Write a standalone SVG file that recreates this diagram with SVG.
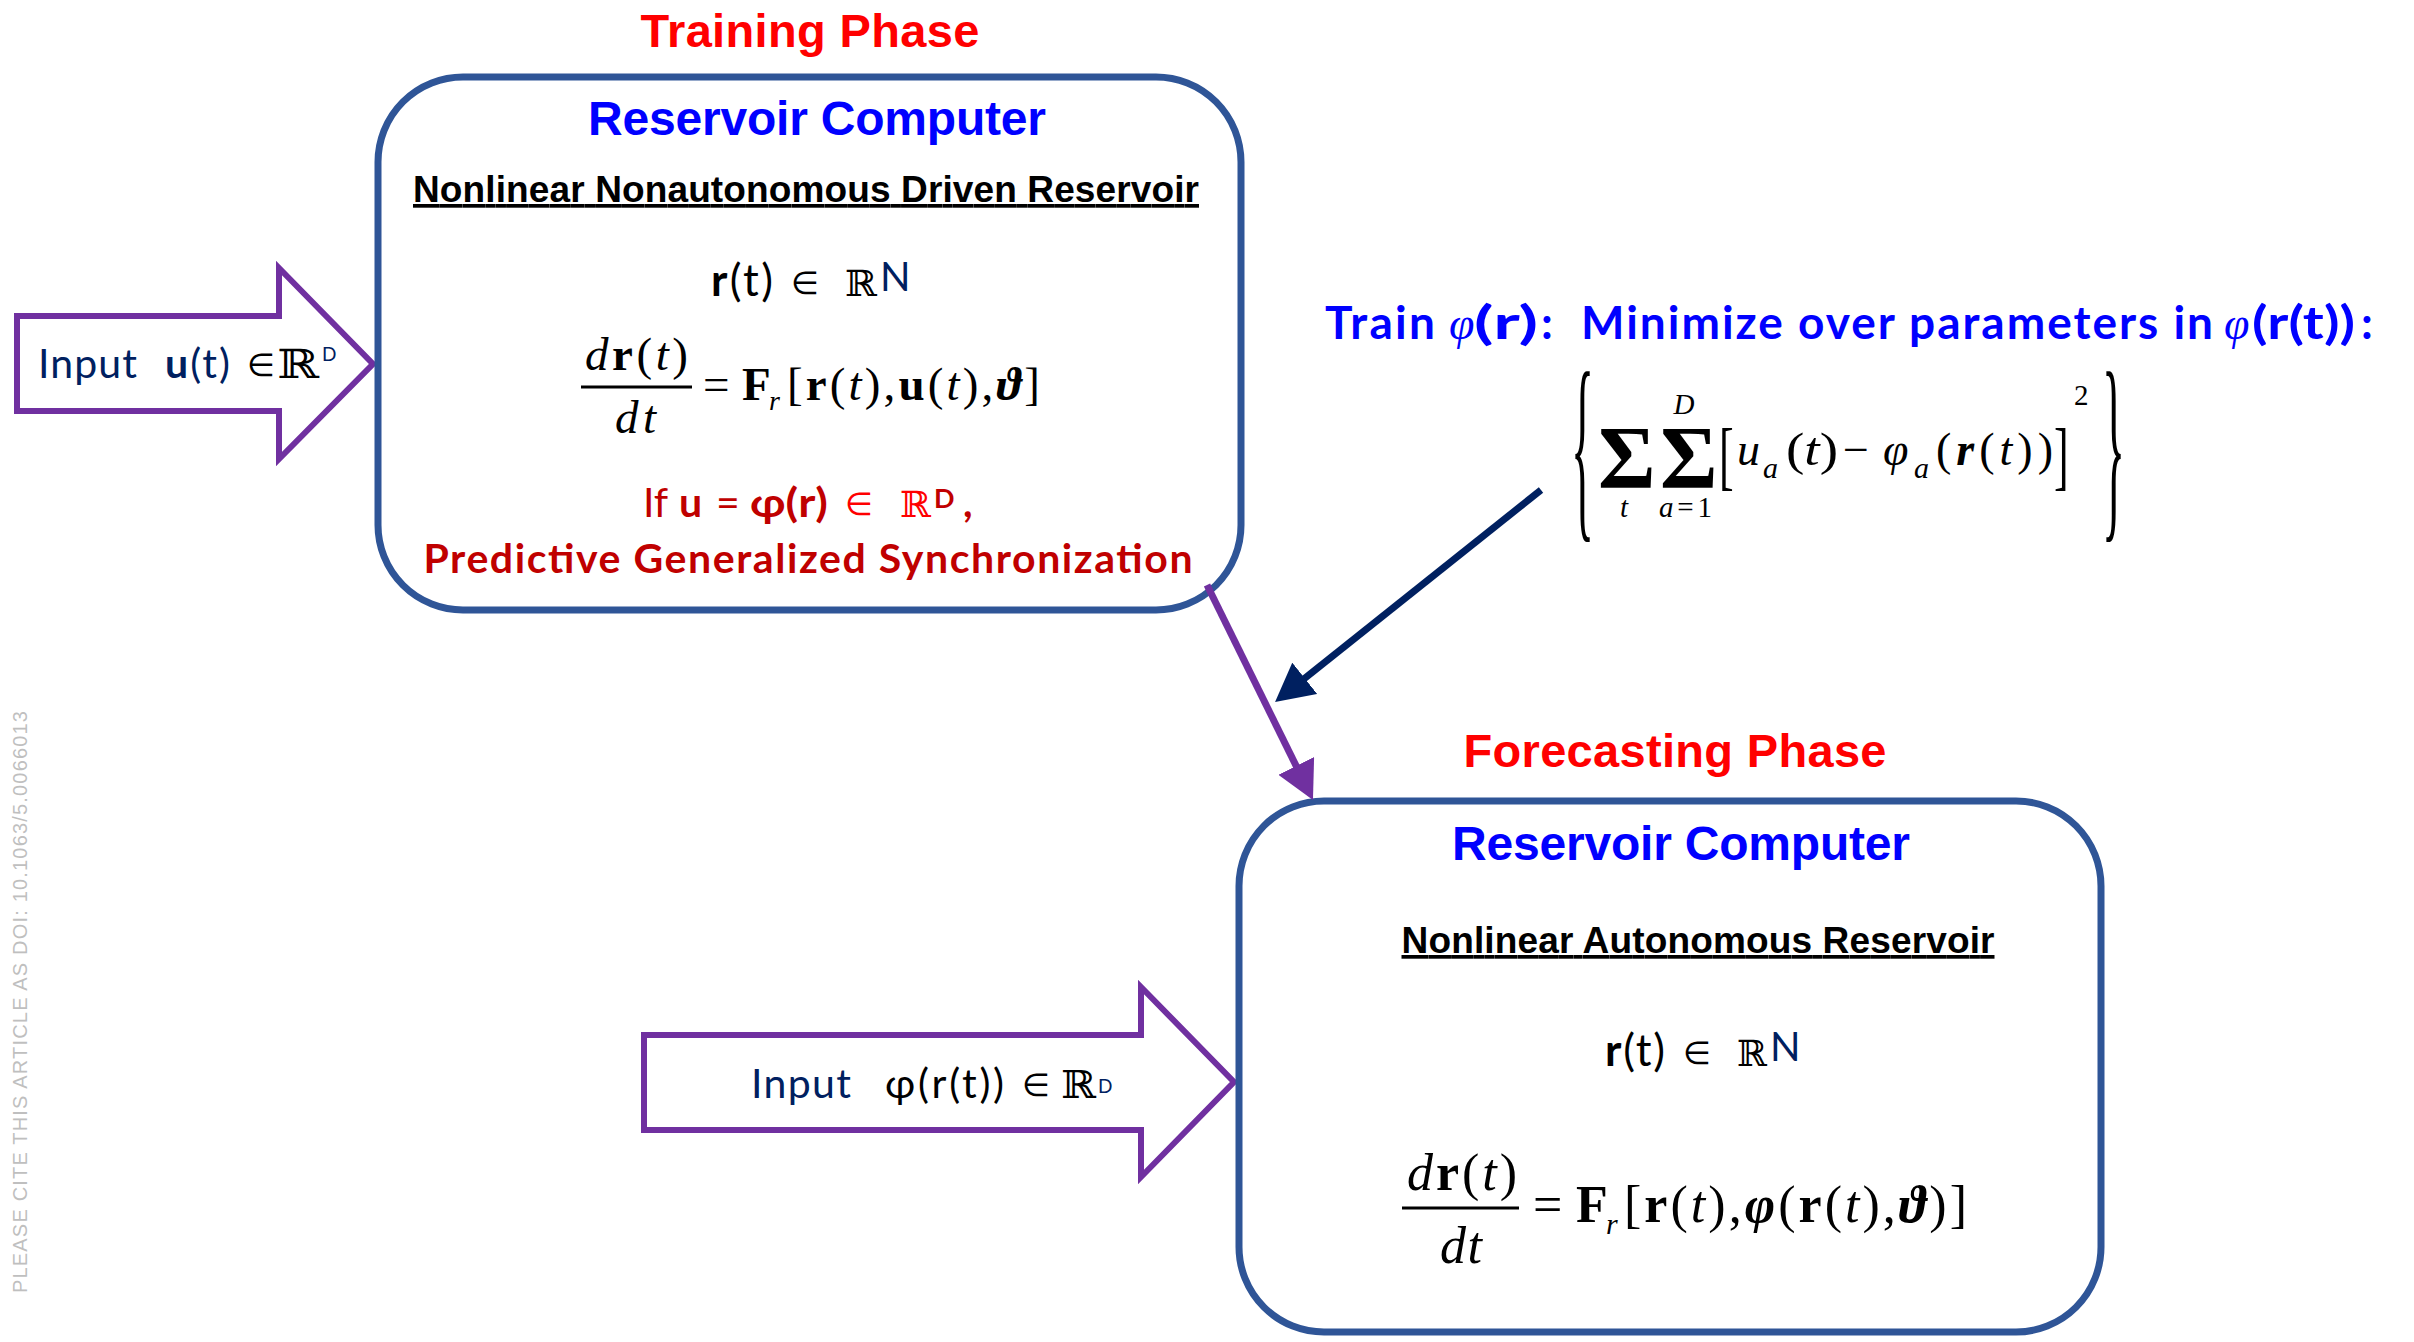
<svg xmlns="http://www.w3.org/2000/svg" width="2414" height="1342" viewBox="0 0 2414 1342">
  <style>
    .box { fill: #FFFFFF; stroke: #2F5597; stroke-width: 7; }
    .bigarrow { fill: #FFFFFF; stroke: #7030A0; stroke-width: 6; stroke-linejoin: miter; }
    .phase { font-family: "Liberation Sans", Arial, sans-serif; font-weight: bold; font-size: 47px; fill: #FF0000; text-anchor: middle; }
    .rc { font-family: "Liberation Sans", Arial, sans-serif; font-weight: bold; font-size: 48px; fill: #0000FF; text-anchor: middle; }
    .kind { font-family: "Liberation Sans", Arial, sans-serif; font-weight: bold; font-size: 37px; fill: #000000; text-anchor: middle; text-decoration: underline; }
    .cal { font-family: Lato, "Open Sans", "Liberation Sans", sans-serif; }
    .b { font-weight: bold; }
    .navy { fill: #002060; }
    .sym { font-family: "DejaVu Sans", "DejaVu Serif", sans-serif; }
    .dbl { font-family: "DejaVu Serif", "DejaVu Sans", serif; }
    .tm { font-family: "Liberation Serif", "DejaVu Serif", serif; fill: #000000; }
    .it { font-style: italic; }
    .dred { fill: #C00000; }
    .red { fill: #FF0000; }
    .blue { fill: #0000FF; }
    .bar { stroke: #000000; stroke-width: 3; }
    .wm { font-family: "Liberation Sans", Arial, sans-serif; font-size: 20px; fill: #BFBFBF; }
  </style>
  <defs>
    <marker id="headPurple" markerUnits="userSpaceOnUse" viewBox="0 0 38 40" markerWidth="38" markerHeight="40" refX="8" refY="20" orient="auto">
      <path d="M0,0 L38,20 L0,40 Z" fill="#7030A0"/>
    </marker>
    <marker id="headNavy" markerUnits="userSpaceOnUse" viewBox="0 0 38 40" markerWidth="38" markerHeight="40" refX="8" refY="20" orient="auto">
      <path d="M0,0 L38,20 L0,40 Z" fill="#002060"/>
    </marker>
  </defs>

  <rect width="2414" height="1342" fill="#FFFFFF"/>

  <!-- side watermark -->
  <text class="wm" transform="translate(27,1293) rotate(-90)" x="0" y="0" textLength="582">PLEASE CITE THIS ARTICLE AS DOI: 10.1063/5.0066013</text>

  <!-- phase titles -->
  <text class="phase" x="810" y="47" textLength="339">Training Phase</text>
  <text class="phase" x="1675" y="767" textLength="423">Forecasting Phase</text>

  <!-- block arrow: driving input -->
  <g id="input-u">
    <polygon class="bigarrow" points="17,316 279,316 279,268 373,364 279,459 279,411 17,411"/>
    <text class="cal navy" x="38" y="378" font-size="41" textLength="99">Input</text>
    <text class="cal navy" x="165" y="378" font-size="41" textLength="65"><tspan class="b">u</tspan>(t)</text>
    <text class="sym" x="247" y="376" font-size="32" textLength="21">∈</text>
    <text class="dbl" x="277" y="378" font-size="40" textLength="42" lengthAdjust="spacingAndGlyphs">ℝ</text>
    <text class="cal navy" x="322" y="361" font-size="19">D</text>
  </g>

  <!-- training reservoir -->
  <g id="training-reservoir">
    <rect class="box" x="378" y="77" width="863" height="533" rx="85" ry="85"/>
    <text class="rc" x="817" y="135" textLength="458">Reservoir Computer</text>
    <text class="kind" x="806" y="202" textLength="786">Nonlinear Nonautonomous Driven Reservoir</text>

    <text class="cal" x="711" y="296" font-size="44" textLength="62"><tspan class="b">r</tspan>(t)</text>
    <text class="sym" x="791" y="294" font-size="32" textLength="22">∈</text>
    <text class="dbl" x="845" y="296" font-size="36" textLength="32" lengthAdjust="spacingAndGlyphs">ℝ</text>
    <text class="cal navy" x="880" y="291" font-size="40" textLength="20">N</text>

    <text class="tm" x="585" y="370" font-size="47" textLength="103"><tspan class="it">d</tspan><tspan class="b">r</tspan>(<tspan class="it">t</tspan>)</text>
    <line class="bar" x1="581" y1="387" x2="692" y2="387"/>
    <text class="tm it" x="615" y="433" font-size="47" textLength="41">dt</text>
    <text class="tm" x="703" y="400" font-size="47" textLength="29">=</text>
    <text class="tm b" x="742" y="400" font-size="47">F</text>
    <text class="tm it" x="769" y="410" font-size="28">r</text>
    <text class="tm" x="787" y="400" font-size="47" textLength="253">[<tspan class="b">r</tspan>(<tspan class="it">t</tspan>),<tspan class="b">u</tspan>(<tspan class="it">t</tspan>),<tspan class="b it">ϑ</tspan>]</text>

    <text class="cal dred" x="643" y="517" font-size="41">If</text>
    <text class="cal dred b" x="679" y="517" font-size="41">u</text>
    <text class="cal dred" x="716" y="517" font-size="41">=</text>
    <text class="cal dred b" x="750" y="517" font-size="41" textLength="78" lengthAdjust="spacingAndGlyphs">φ(r)</text>
    <text class="sym red" x="845" y="515" font-size="32" textLength="23">∈</text>
    <text class="dbl red" x="900" y="517" font-size="36" textLength="31" lengthAdjust="spacingAndGlyphs">ℝ</text>
    <text class="cal dred b" x="934" y="508" font-size="27">D</text>
    <text class="cal dred b" x="963" y="517" font-size="41">,</text>

    <text class="cal dred b" x="808" y="573" font-size="41" text-anchor="middle" textLength="769">Predictive Generalized Synchronization</text>
  </g>

  <!-- readout training objective -->
  <g id="readout-training">
    <text class="cal blue b" x="1325" y="339" font-size="46" textLength="110">Train</text>
    <text class="tm it blue" x="1449" y="339" font-size="46">φ</text>
    <text class="cal blue b" x="1474" y="339" font-size="46" textLength="64" lengthAdjust="spacingAndGlyphs">(r)</text>
    <text class="cal blue b" x="1541" y="339" font-size="46">:</text>
    <text class="cal blue b" x="1581" y="339" font-size="46" textLength="632">Minimize over parameters in</text>
    <text class="tm it blue" x="2224" y="339" font-size="46">φ</text>
    <text class="cal blue b" x="2252" y="339" font-size="46" textLength="103" lengthAdjust="spacingAndGlyphs">(r(t))</text>
    <text class="cal blue b" x="2361" y="339" font-size="46">:</text>

    <text class="tm" transform="translate(1571,514) scale(1,4.29)" font-size="48">{</text>
    <text class="tm b" x="1598" y="487" font-size="88">Σ</text>
    <text class="tm b" x="1660" y="487" font-size="88">Σ</text>
    <text class="tm it" x="1684" y="414" font-size="29" text-anchor="middle">D</text>
    <text class="tm it" x="1624" y="517" font-size="29" text-anchor="middle">t</text>
    <text class="tm" x="1659" y="517" font-size="29" textLength="53"><tspan class="it">a</tspan>=1</text>
    <text class="tm" transform="translate(1719,481) scale(1,1.72)" font-size="44">[</text>
    <text class="tm it" x="1737" y="465" font-size="46">u</text>
    <text class="tm it" x="1763" y="478" font-size="30">a</text>
    <text class="tm" x="1786" y="465" font-size="46" textLength="52" lengthAdjust="spacingAndGlyphs">(<tspan class="it">t</tspan>)</text>
    <text class="tm" x="1843" y="465" font-size="46" textLength="36">−</text>
    <text class="tm it" x="1883" y="465" font-size="46">φ</text>
    <text class="tm it" x="1914" y="478" font-size="30">a</text>
    <text class="tm" x="1936" y="465" font-size="46" textLength="117">(<tspan class="b it">r</tspan>(<tspan class="it">t</tspan>))</text>
    <text class="tm" transform="translate(2054,481) scale(1,1.72)" font-size="44">]</text>
    <text class="tm" x="2074" y="405" font-size="29">2</text>
    <text class="tm" transform="translate(2102,514) scale(1,4.29)" font-size="48">}</text>
  </g>

  <!-- block arrow: fed-back readout -->
  <g id="input-phi">
    <polygon class="bigarrow" points="644,1035 1141,1035 1141,987 1234,1082 1141,1177 1141,1130 644,1130"/>
    <text class="cal navy" x="751" y="1098" font-size="41" textLength="100">Input</text>
    <text class="cal" x="885" y="1098" font-size="41" textLength="119">φ(r(t))</text>
    <text class="sym" x="1022" y="1096" font-size="32" textLength="25">∈</text>
    <text class="dbl" x="1061" y="1098" font-size="38" textLength="35" lengthAdjust="spacingAndGlyphs">ℝ</text>
    <text class="cal navy" x="1098" y="1093" font-size="19">D</text>
  </g>

  <!-- forecasting reservoir -->
  <g id="forecasting-reservoir">
    <rect class="box" x="1239" y="801" width="862" height="531" rx="85" ry="85"/>
    <text class="rc" x="1681" y="860" textLength="458">Reservoir Computer</text>
    <text class="kind" x="1698" y="953" textLength="593">Nonlinear Autonomous Reservoir</text>

    <text class="cal" x="1605" y="1066" font-size="44" textLength="60"><tspan class="b">r</tspan>(t)</text>
    <text class="sym" x="1683" y="1064" font-size="32" textLength="24">∈</text>
    <text class="dbl" x="1737" y="1066" font-size="36" textLength="30" lengthAdjust="spacingAndGlyphs">ℝ</text>
    <text class="cal navy" x="1770" y="1061" font-size="40" textLength="20">N</text>

    <text class="tm" x="1407" y="1190" font-size="52" textLength="110"><tspan class="it">d</tspan><tspan class="b">r</tspan>(<tspan class="it">t</tspan>)</text>
    <line class="bar" x1="1402" y1="1208" x2="1519" y2="1208"/>
    <text class="tm it" x="1440" y="1263" font-size="52" textLength="42">dt</text>
    <text class="tm" x="1533" y="1222" font-size="52" textLength="30">=</text>
    <text class="tm b" x="1576" y="1222" font-size="52">F</text>
    <text class="tm it" x="1606" y="1234" font-size="30">r</text>
    <text class="tm" x="1624" y="1222" font-size="52" textLength="343">[<tspan class="b">r</tspan>(<tspan class="it">t</tspan>),<tspan class="b it">φ</tspan>(<tspan class="b">r</tspan>(<tspan class="it">t</tspan>),<tspan class="b it">ϑ</tspan>)]</text>
  </g>

  <!-- connectors -->
  <g id="connectors">
    <line x1="1207" y1="585" x2="1299.7" y2="773.1" stroke="#7030A0" stroke-width="7" marker-end="url(#headPurple)"/>
    <line x1="1541" y1="490" x2="1298.5" y2="683.3" stroke="#002060" stroke-width="7" marker-end="url(#headNavy)"/>
  </g>
</svg>
